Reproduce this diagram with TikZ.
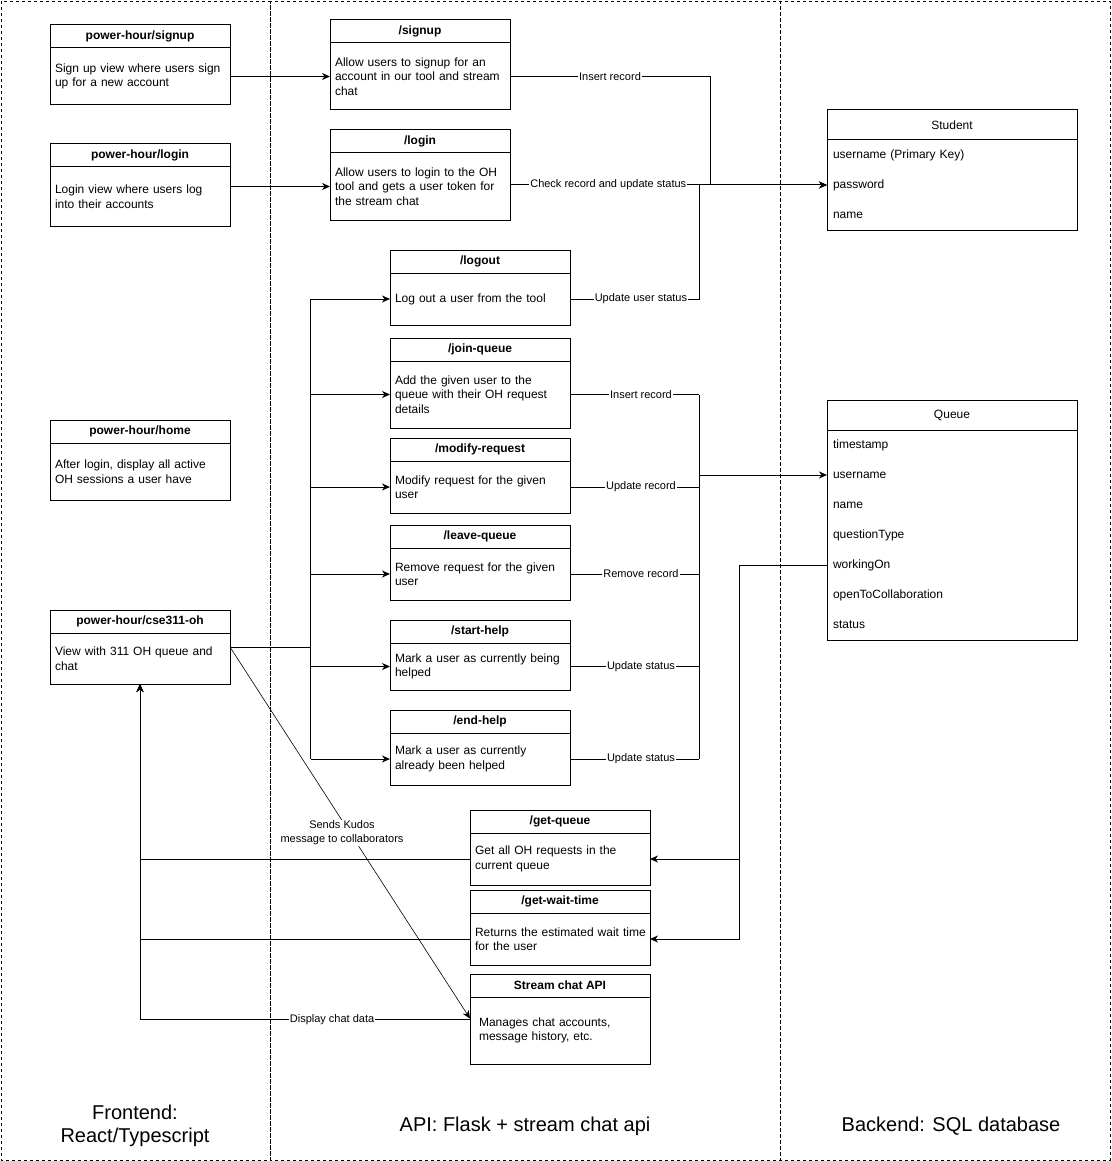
\documentclass[tikz,border=0pt]{standalone}
\usepackage{fontspec}
\setmainfont{Liberation Sans}
\usetikzlibrary{positioning,arrows.meta}
\tikzset{
  lanebox/.style={draw, line width=0.8pt, dash pattern=on 3pt off 3pt},
  boxbody/.style={draw, line width=1pt, outer sep=0pt, minimum width=180pt, text width=170pt,
    inner xsep=5pt, inner ysep=0pt, align=left, font=\fontsize{12}{14.5}\selectfont},
  boxhead/.style={draw, line width=1pt, outer sep=0pt, minimum width=180pt, minimum height=23pt,
    inner sep=0pt, font=\bfseries\fontsize{12}{14}\selectfont},
  tablehead/.style={draw, line width=1pt, outer sep=0pt, minimum width=250pt, minimum height=30pt,
    inner sep=0pt, font=\fontsize{12}{14}\selectfont},
  tablerow/.style={outer sep=0pt, minimum width=250pt, minimum height=30pt, text width=238pt,
    inner xsep=6pt, inner ysep=0pt, align=left, font=\fontsize{12}{14}\selectfont},
  lbl/.style={fill=white, inner sep=1pt, font=\fontsize{11}{14}\selectfont},
  lanelbl/.style={align=center, font=\fontsize{20}{23}\selectfont},
  >={Stealth[length=8pt,width=7pt,inset=2.5pt]},
}
\begin{document}
\begin{tikzpicture}[x=1pt, y=-1pt, line width=1pt]
  \useasboundingbox (0,0) rectangle (1111,1161);
  \draw[lanebox] (1,1) rectangle (270,1160);
  \draw[lanebox] (270,1) rectangle (780,1160);
  \draw[lanebox] (780,1) rectangle (1110,1160);
  \node[lanelbl] (felbl) at (135,1126) {Frontend:\\React/Typescript};
  \node[lanelbl] (apilbl) at (525,1126) {API: Flask + stream chat api};
  \node[lanelbl] (belbl) at (951,1126) {Backend: SQL database};

  \node[boxbody, minimum height=57pt] (signupview) at (140,76.5) {Sign up view where users sign\\up for a new account};
  \node[boxhead, above=0pt of signupview] (signupviewh) {power-hour/signup};
  \node[boxbody, minimum height=59pt] (loginview) at (140,196.5) {Login view where users log\\into their accounts};
  \node[boxhead, above=0pt of loginview] (loginviewh) {power-hour/login};
  \node[boxbody, minimum height=57pt] (homeview) at (140,471.5) {After login, display all active\\OH sessions a user have};
  \node[boxhead, above=0pt of homeview] (homeviewh) {power-hour/home};
  \node[boxbody, minimum height=51pt] (ohview) at (140,658.5) {View with 311 OH queue and\\chat};
  \node[boxhead, above=0pt of ohview] (ohviewh) {power-hour/cse311-oh};

  \node[boxbody, minimum height=67pt] (signup) at (420,76.5) {Allow users to signup for an\\account in our tool and stream\\chat};
  \node[boxhead, above=0pt of signup] (signuph) {/signup};
  \node[boxbody, minimum height=67pt] (login) at (420,186.5) {Allow users to login to the OH\\tool and gets a user token for\\the stream chat};
  \node[boxhead, above=0pt of login] (loginh) {/login};
  \node[boxbody, minimum height=52pt] (logout) at (480,299) {Log out a user from the tool};
  \node[boxhead, above=0pt of logout] (logouth) {/logout};
  \node[boxbody, minimum height=67pt] (joinqueue) at (480,394.5) {Add the given user to the\\queue with their OH request\\details};
  \node[boxhead, above=0pt of joinqueue] (joinqueueh) {/join-queue};
  \node[boxbody, minimum height=52pt] (modifyreq) at (480,487) {Modify request for the given\\user};
  \node[boxhead, above=0pt of modifyreq] (modifyreqh) {/modify-request};
  \node[boxbody, minimum height=52pt] (leavequeue) at (480,574) {Remove request for the given\\user};
  \node[boxhead, above=0pt of leavequeue] (leavequeueh) {/leave-queue};
  \node[boxbody, minimum height=47pt] (starthelp) at (480,666.5) {Mark a user as currently being\\helped};
  \node[boxhead, above=0pt of starthelp] (starthelph) {/start-help};
  \node[boxbody, minimum height=52pt] (endhelp) at (480,759) {Mark a user as currently\\already been helped};
  \node[boxhead, above=0pt of endhelp] (endhelph) {/end-help};
  \node[boxbody, minimum height=52pt] (getqueue) at (560,859) {Get all OH requests in the\\current queue};
  \node[boxhead, above=0pt of getqueue] (getqueueh) {/get-queue};
  \node[boxbody, minimum height=52pt] (getwait) at (560,939) {\mbox{Returns the estimated wait time}\\for the user};
  \node[boxhead, above=0pt of getwait] (getwaith) {/get-wait-time};
  \node[boxbody, minimum height=67pt, inner xsep=9pt, text width=162pt] (streamapi) at (560,1030.5) {Manages chat accounts,\\message history, etc.};
  \node[boxhead, above=0pt of streamapi] (streamapih) {Stream chat API};

  \node[tablehead] (student) at (952,125) {Student};
  \node[tablerow, below=0pt of student] (stuser) {username (Primary Key)};
  \node[tablerow, below=0pt of stuser] (stpass) {password};
  \node[tablerow, below=0pt of stpass] (stname) {name};
  \draw (stuser.north west) rectangle (stname.south east);

  \node[tablehead] (queue) at (952,415) {Queue};
  \node[tablerow, below=0pt of queue] (qstamp) {timestamp};
  \node[tablerow, below=0pt of qstamp] (quser) {username};
  \node[tablerow, below=0pt of quser] (qname) {name};
  \node[tablerow, below=0pt of qname] (qtype) {questionType};
  \node[tablerow, below=0pt of qtype] (qworking) {workingOn};
  \node[tablerow, below=0pt of qworking] (qopen) {openToCollaboration};
  \node[tablerow, below=0pt of qopen] (qstatus) {status};
  \draw (qstamp.north west) rectangle (qstatus.south east);

  \coordinate (stbend) at (710,76.5);
  \coordinate (stbus) at (699,185);
  \coordinate (qbus) at (699,475);
  \coordinate (ohbus) at (310.5,647);
  \coordinate (wobus) at (739,565);

  \begin{scope}[->]
    \draw (signupview.east) -- (signup.west);
    \draw (loginview.east |- login.west) -- (login.west);
    \draw (signup.east) -- node[lbl]{Insert record} (stbend) |- (stpass.west);
    \draw (login.east |- stpass.west) -- node[lbl, pos=0.31]{Check record and update status} (stpass.west);
    \draw (qbus) -- (quser.west);
    \draw (logout.west -| ohbus) -- (logout.west);
    \draw (joinqueue.west -| ohbus) -- (joinqueue.west);
    \draw (modifyreq.west -| ohbus) -- (modifyreq.west);
    \draw (leavequeue.west -| ohbus) -- (leavequeue.west);
    \draw (starthelp.west -| ohbus) -- (starthelp.west);
    \draw (endhelp.west -| ohbus) -- (endhelp.west);
    \draw (qworking.west) -- (wobus) |- (getqueue.east);
    \draw (wobus) |- (getwait.east);
    \draw (getqueue.west) -| (ohview.south);
    \draw (getwait.west) -| (ohview.south);
    \draw ([yshift=11pt]streamapi.west) -- node[lbl, pos=0.418]{Display chat data} ([yshift=11pt]streamapi.west -| ohview.south) -- (ohview.south);
    \draw[line width=0.6pt] (ohview.east |- ohbus) -- node[lbl, align=center, xshift=-8pt]{Sends Kudos\\message to collaborators} ([yshift=12pt]streamapi.west);
  \end{scope}
  \begin{scope}[-]
    \draw (logout.east) -- node[lbl, pos=0.55]{Update user status} (logout.east -| stbus) -- (stbus);
    \draw (joinqueue.east) -- node[lbl, pos=0.55]{Insert record} (joinqueue.east -| qbus);
    \draw (modifyreq.east) -- node[lbl, pos=0.55]{Update record} (modifyreq.east -| qbus);
    \draw (leavequeue.east) -- node[lbl, pos=0.55]{Remove record} (leavequeue.east -| qbus);
    \draw (starthelp.east) -- node[lbl, pos=0.55]{Update status} (starthelp.east -| qbus);
    \draw (endhelp.east) -- node[lbl, pos=0.55]{Update status} (endhelp.east -| qbus);
    \draw (joinqueue.east -| qbus) -- (endhelp.east -| qbus);
    \draw (ohview.east |- ohbus) -- (ohbus);
    \draw (logout.west -| ohbus) -- (endhelp.west -| ohbus);
  \end{scope}
\end{tikzpicture}
\end{document}
